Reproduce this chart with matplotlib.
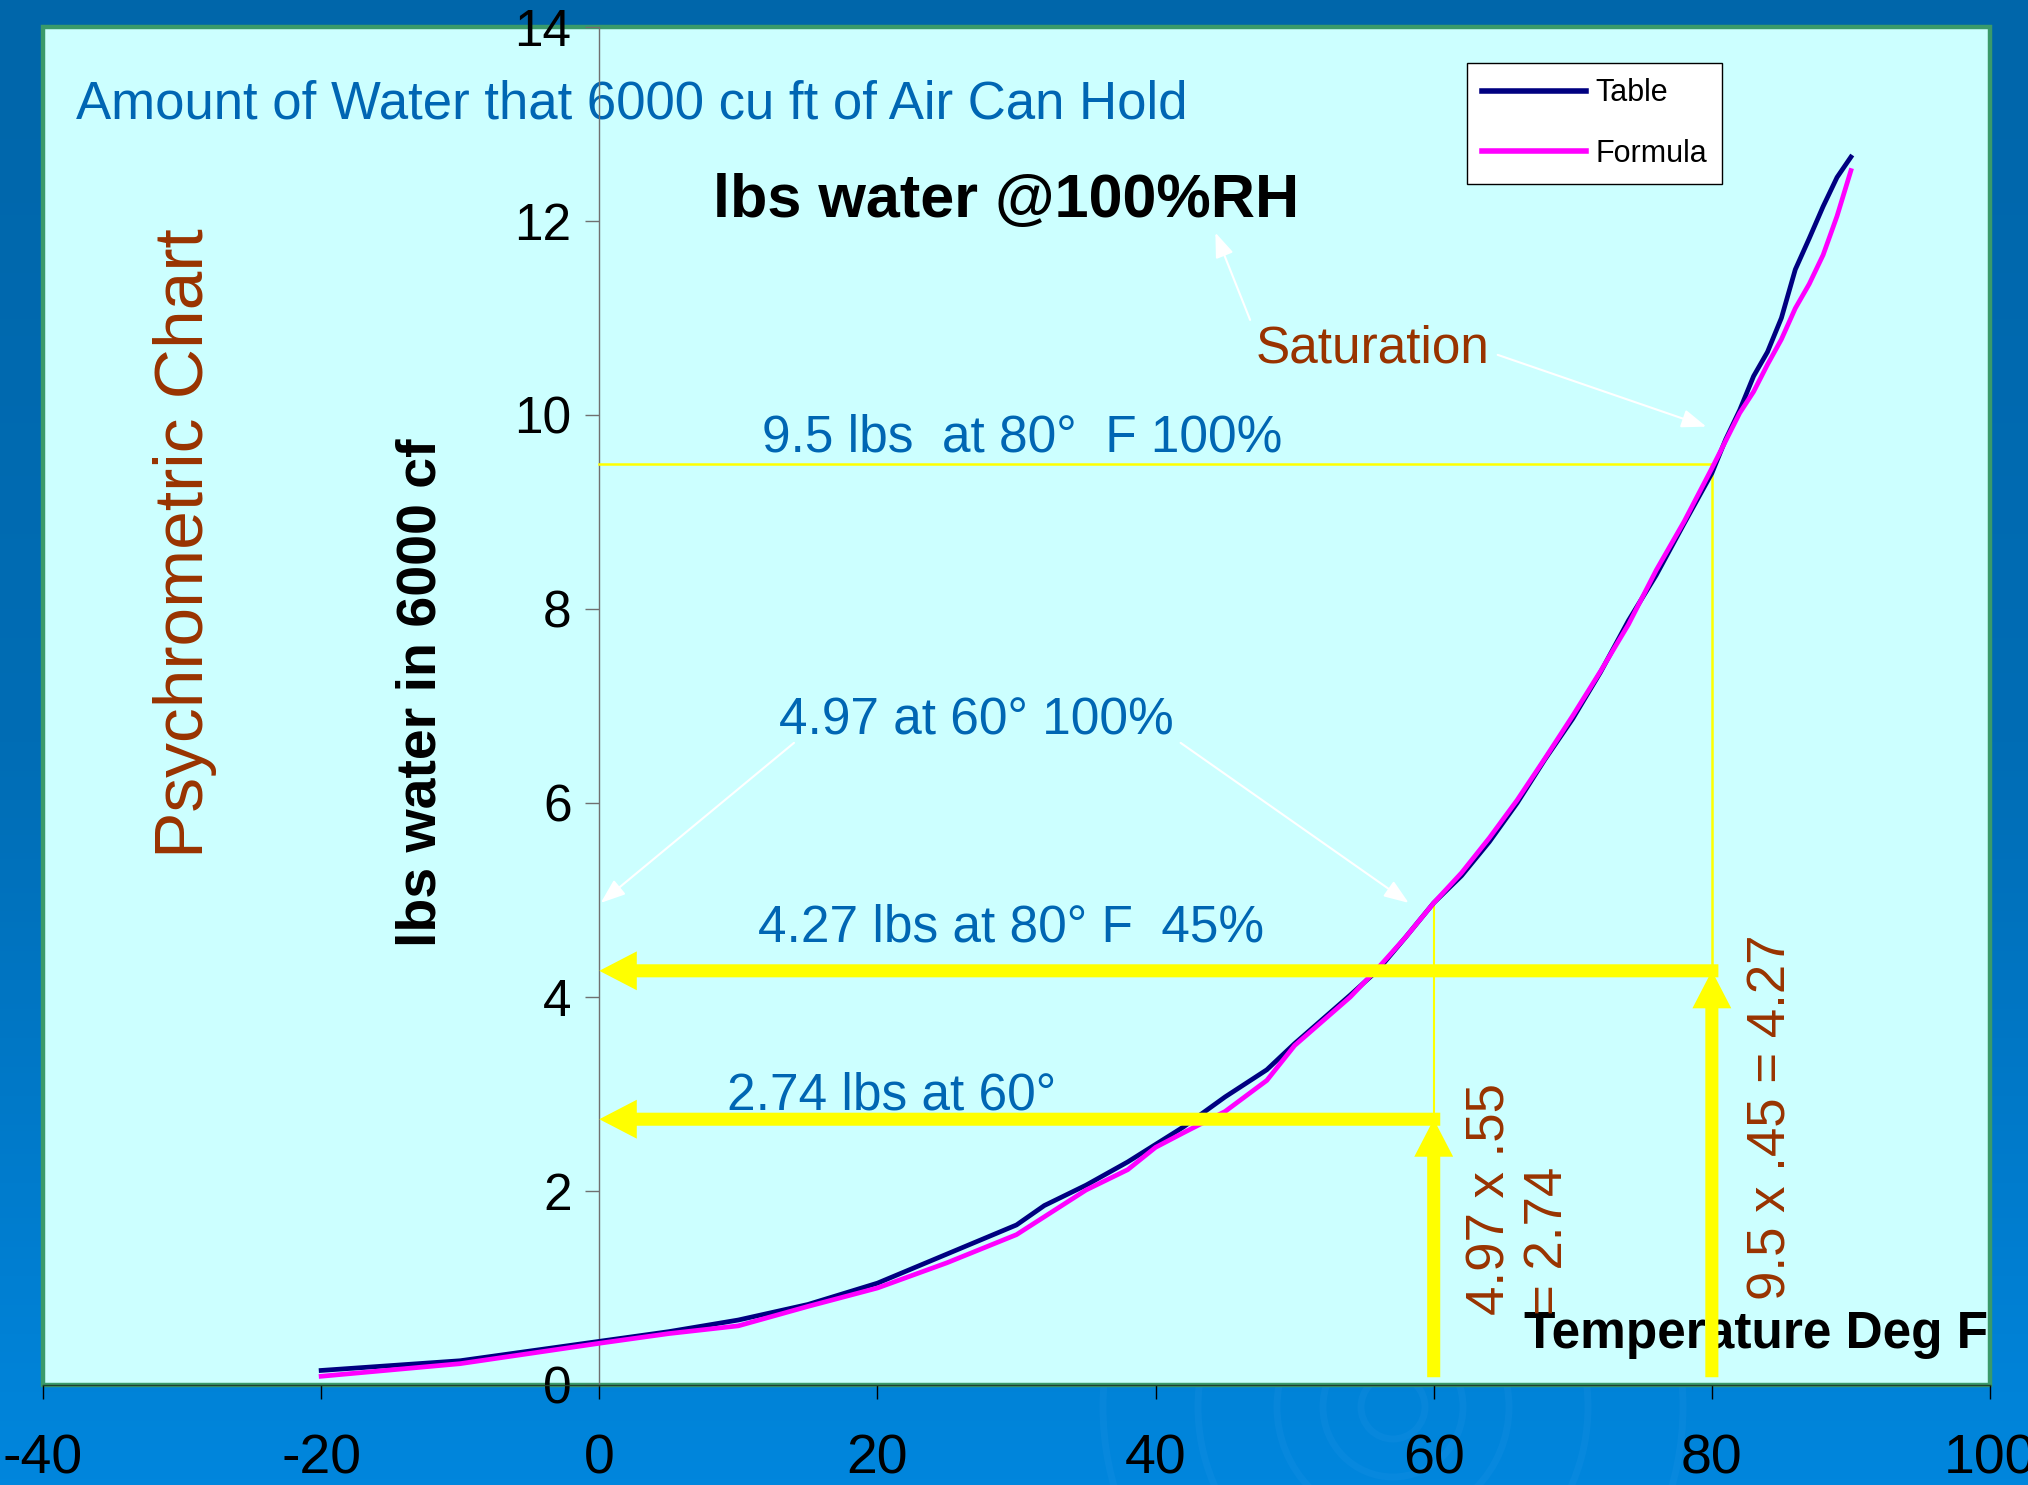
import matplotlib
matplotlib.use("Agg")
import matplotlib.pyplot as plt
import numpy as np
from matplotlib.colors import LinearSegmentedColormap
from matplotlib.patches import FancyArrowPatch, Rectangle, Ellipse

plt.rcParams["font.family"] = ["Liberation Sans", "DejaVu Sans"]
plt.rcParams["axes.unicode_minus"] = False

# lbs of water held by 6000 cu ft of air at 100% RH
table_temp = [-20, -10, 0, 5, 10, 15, 20, 25, 30, 32, 35, 38, 40, 42, 45, 48,
              50, 52, 54, 56, 58, 60, 62, 64, 66, 68, 70, 72, 74, 76, 78,
              80, 81, 82, 83, 84, 85, 86, 87, 88, 89, 90]
table_lbs = [0.15, 0.25, 0.45, 0.55, 0.67, 0.83, 1.05, 1.35, 1.65, 1.85, 2.06, 2.30, 2.48, 2.66, 2.97, 3.25,
             3.52, 3.77, 4.02, 4.28, 4.62, 4.97, 5.25, 5.60, 6.00, 6.45, 6.87, 7.35, 7.88, 8.35, 8.88,
             9.40, 9.75, 10.05, 10.40, 10.65, 11.00, 11.50, 11.82, 12.15, 12.45, 12.66]

formula_temp = [-20, -10, 0, 5, 10, 15, 20, 25, 30, 35, 38, 40, 42, 45, 48,
                50, 52, 54, 56, 58, 60, 62, 64, 66, 68, 70, 72, 74, 76, 78,
                80, 82, 83, 84, 85, 86, 87, 88, 89, 90]
formula_lbs = [0.09, 0.22, 0.43, 0.53, 0.61, 0.81, 1.00, 1.26, 1.55, 2.01, 2.22, 2.45, 2.60, 2.82, 3.14,
               3.50, 3.75, 4.00, 4.30, 4.62, 4.97, 5.28, 5.64, 6.03, 6.46, 6.90, 7.36, 7.84, 8.40, 8.90,
               9.45, 10.02, 10.24, 10.52, 10.78, 11.10, 11.35, 11.65, 12.05, 12.52]

x_ticks = [-40, -20, 0, 20, 40, 60, 80, 100]
y_ticks = [0, 2, 4, 6, 8, 10, 12, 14]

# worked examples: saturated amount times relative humidity
sat_80 = 9.5
sat_60 = 4.97
moist_80 = 4.27
moist_60 = 2.74

BLUE = "#0066b3"
BROWN = "#993300"
YELLOW = "#ffff00"

fig = plt.figure(figsize=(20.28, 14.85), dpi=100)

# slide background: blue gradient with a few faint ripples
bg = fig.add_axes([0, 0, 1, 1], zorder=-10)
grad = np.linspace(0, 1, 256)[:, None]
cmap = LinearSegmentedColormap.from_list("slide", ["#0066aa", "#006db5", "#0086dd"])
bg.imshow(grad, aspect="auto", cmap=cmap, extent=[0, 1, 0, 1], origin="upper")
for r in [32, 70, 116, 195, 290]:
    bg.add_patch(Ellipse((1393 / 2028, 1 - 1407 / 1485), 2 * r / 2028, 2 * r / 1485,
                         fill=False, ec="#3aa0ee", lw=5, alpha=0.12))
bg.set_xlim(0, 1)
bg.set_ylim(0, 1)
bg.axis("off")

ax = fig.add_axes([43 / 2028, 100 / 1485, 1947 / 2028, 1358 / 1485])
ax.set_facecolor("#ccffff")
ax.set_xlim(-40, 100)
ax.set_ylim(0, 14)
ax.set_xticks(x_ticks)
ax.set_yticks(y_ticks)

ax.add_patch(Rectangle((0, 0), 1, 1, transform=ax.transAxes, fill=False,
                       ec="#3a9a6a", lw=3.2, clip_on=False, zorder=1))
for s in ("top", "right"):
    ax.spines[s].set_visible(False)
ax.spines["left"].set_position(("data", 0))
ax.spines["left"].set_color("#707070")
ax.spines["left"].set_linewidth(1)
ax.spines["bottom"].set_color("#1f3f2f")
ax.spines["bottom"].set_linewidth(1)

ax.tick_params(axis="x", direction="out", length=10, width=1, color="black",
               pad=25, labelsize=40)
ax.tick_params(axis="y", direction="out", length=10, width=1, color="#707070",
               pad=10, labelsize=37)

ax.plot(table_temp, table_lbs, color="#000080", lw=3.4, label="Table", zorder=4)
ax.plot(formula_temp, formula_lbs, color="#ff00ff", lw=3.4, label="Formula", zorder=5)

leg = ax.legend(loc="upper left", bbox_to_anchor=(1467 / 2028, 1 - 63 / 1485),
                bbox_transform=fig.transFigure, fancybox=False, edgecolor="black",
                facecolor="white", framealpha=1, fontsize=22, handlelength=3.4,
                handletextpad=0.3, borderpad=0.5, labelspacing=1.0, borderaxespad=0)
leg.get_frame().set_linewidth(1)
for line in leg.get_lines():
    line.set_linewidth(4)

# titles and axis captions
ax.text(-37.6, 13.06, "Amount of Water that 6000 cu ft of Air Can Hold",
        color=BLUE, fontsize=38, zorder=2)
ax.text(-29.8, 8.68, "Psychrometric Chart", rotation=90, color=BROWN,
        fontsize=50, ha="center", va="center")
ax.text(-12.8, 7.14, "lbs water in 6000 cf", rotation=90, fontweight="bold",
        fontsize=40, ha="center", va="center")
ax.text(8.2, 12.04, "lbs water @100%RH", fontweight="bold", fontsize=44)
ax.text(99.85, 0.38, "Temperature Deg F", fontweight="bold", fontsize=37,
        ha="right", zorder=5)
ax.text(47.2, 10.54, "Saturation", color=BROWN, fontsize=37)

# reading the curve
ax.text(11.7, sat_80 + 0.12, f"{sat_80} lbs  at 80°  F 100%", color=BLUE, fontsize=37)
ax.text(12.9, 6.71, f"{sat_60} at 60° 100%", color=BLUE, fontsize=37)
ax.text(11.4, moist_80 + 0.3, f"{moist_80} lbs at 80° F  45%", color=BLUE, fontsize=37)
ax.text(9.2, moist_60 + 0.1, f"{moist_60} lbs at 60°", color=BLUE, fontsize=37)

ax.text(62.25, 0.72, f"{sat_60} x .55\n= {moist_60}", rotation=90, color=BROWN,
        fontsize=38, ha="left", va="bottom", multialignment="left", zorder=6)
ax.text(82.46, 0.88, f"{sat_80} x .45 = {moist_80}", rotation=90, color=BROWN,
        fontsize=38, ha="left", va="bottom", zorder=6)

# thin guide lines from the saturation curve
ax.plot([0, 80, 80], [sat_80, sat_80, moist_80], color=YELLOW, lw=1.8, zorder=3)
ax.plot([60, 60], [sat_60, moist_60], color=YELLOW, lw=1.5, zorder=3)

# thick yellow arrows: up from the temperature, across to the axis
style = "simple,head_length=27,head_width=28,tail_width=9.4"
for t, v in [(60, moist_60), (80, moist_80)]:
    ax.add_patch(FancyArrowPatch((t, 0.08), (t, v), arrowstyle=style, mutation_scale=1,
                                 color=YELLOW, lw=0, shrinkA=0, shrinkB=0, zorder=7))
    ax.add_patch(FancyArrowPatch((t + 0.47, v), (0, v), arrowstyle=style, mutation_scale=1,
                                 color=YELLOW, lw=0, shrinkA=0, shrinkB=0, zorder=7))

# white pointer arrows
white = dict(arrowstyle="-|>,head_length=0.75,head_width=0.28", color="white",
             lw=1.5, mutation_scale=20, shrinkA=0, shrinkB=0)
for start, end in [((46.8, 10.98), (44.3, 11.88)),
                   ((64.6, 10.62), (79.6, 9.88)),
                   ((14.0, 6.62), (0.1, sat_60)),
                   ((41.8, 6.62), (58.2, sat_60))]:
    ax.annotate("", xy=end, xytext=start, arrowprops=white, zorder=6)

fig.savefig("out.png", dpi=100)
